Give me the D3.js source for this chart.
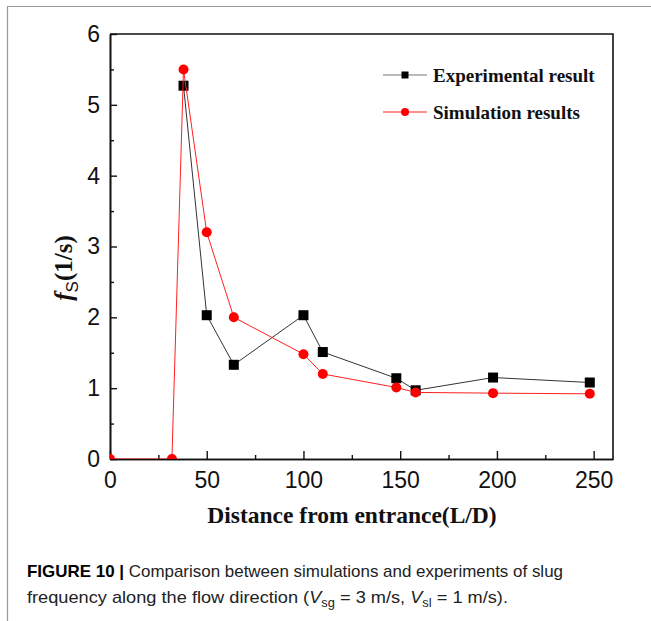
<!DOCTYPE html>
<html>
<head>
<meta charset="utf-8">
<script src="https://cdn.jsdelivr.net/npm/d3@7/dist/d3.min.js"></script>
<style>
	body { margin: 0; background: #fff; }
	svg { display: block; }
</style>
</head>
<body>
<svg></svg>
<script>
// distance from entrance (L/D)
const simDistance = [0, 32, 38, 50, 64, 100, 110, 148, 158, 198, 248]
const simValues = [0, 0, 5.5, 3.2, 2.0, 1.48, 1.2, 1.01, 0.94, 0.93, 0.92]
const expDistance = [38, 50, 64, 100, 110, 148, 158, 198, 248]
const expValues = [5.27, 2.03, 1.33, 2.03, 1.51, 1.14, 0.97, 1.15, 1.08]
const xTicks = [0, 50, 100, 150, 200, 250]
const xMinor = [25, 75, 125, 175, 225]
const yTicks = [0, 1, 2, 3, 4, 5, 6]
const yMinor = [0.5, 1.5, 2.5, 3.5, 4.5, 5.5]
const seriesNames = ['Experimental result', 'Simulation results']

const width = 651,
	height = 621,
	plotLeft = 110,
	plotRight = 613,
	plotTop = 34,
	plotBottom = 459

const svg = d3.select('svg')
	.attr('width', width)
	.attr('height', height)

// panel border (top and left only)
svg.append('path')
	.attr('d', `M7.5,${height} V6.5 H${width}`)
	.attr('fill', 'none')
	.attr('stroke', '#9a9a9a')
	.attr('stroke-width', 1.2)

const x = d3.scaleLinear().domain([0, 260]).range([plotLeft, plotRight])
const y = d3.scaleLinear().domain([0, 6]).range([plotBottom, plotTop])

const sim = simDistance.map((d, i) => ({ x: d, y: simValues[i] }))
const exp = expDistance.map((d, i) => ({ x: d, y: expValues[i] }))

svg.append('clipPath')
	.attr('id', 'plot-clip')
	.append('rect')
	.attr('x', plotLeft)
	.attr('y', plotTop)
	.attr('width', plotRight - plotLeft)
	.attr('height', plotBottom - plotTop)

// axes
const xAxis = svg.append('g')
	.attr('transform', `translate(0,${plotBottom})`)
	.call(d3.axisBottom(x).tickValues(xTicks).tickSizeInner(-8).tickSizeOuter(0).tickPadding(13))
xAxis.append('g')
	.call(d3.axisBottom(x).tickValues(xMinor).tickSizeInner(-4).tickSizeOuter(0).tickFormat(''))

const yAxis = svg.append('g')
	.attr('transform', `translate(${plotLeft},0)`)
	.call(d3.axisLeft(y).tickValues(yTicks).tickFormat(d3.format('d')).tickSizeInner(-7).tickSizeOuter(0).tickPadding(10))
yAxis.append('g')
	.call(d3.axisLeft(y).tickValues(yMinor).tickSizeInner(-4).tickSizeOuter(0).tickFormat(''))

svg.selectAll('.domain').attr('stroke', '#111').attr('stroke-width', 1.6)
svg.selectAll('.tick line').attr('stroke', '#111').attr('stroke-width', 1.4)
svg.selectAll('.tick text')
	.attr('fill', '#111')
	.style('font-family', 'Liberation Sans, Arial, sans-serif')
	.style('font-size', '23px')

// top and right frame
svg.append('path')
	.attr('d', `M${plotLeft},${plotTop} H${plotRight} V${plotBottom}`)
	.attr('fill', 'none')
	.attr('stroke', '#111')
	.attr('stroke-width', 1.6)

const line = d3.line()
	.x(d => x(d.x))
	.y(d => y(d.y))

const plot = svg.append('g').attr('clip-path', 'url(#plot-clip)')

plot.append('path')
	.datum(exp)
	.attr('d', line)
	.attr('fill', 'none')
	.attr('stroke', '#333')
	.attr('stroke-width', 1)

plot.selectAll('.sq')
	.data(exp)
	.enter()
	.append('rect')
	.attr('class', 'sq')
	.attr('x', d => x(d.x) - 5)
	.attr('y', d => y(d.y) - 5)
	.attr('width', 10)
	.attr('height', 10)
	.attr('fill', '#000')

plot.append('path')
	.datum(sim)
	.attr('d', line)
	.attr('fill', 'none')
	.attr('stroke', '#ff2020')
	.attr('stroke-width', 1)

plot.selectAll('.dot')
	.data(sim)
	.enter()
	.append('circle')
	.attr('class', 'dot')
	.attr('cx', d => x(d.x))
	.attr('cy', d => y(d.y))
	.attr('r', 5)
	.attr('fill', '#ff0000')

// legend
const legend = svg.append('g')
const rows = legend.selectAll('g')
	.data(seriesNames)
	.enter()
	.append('g')
	.attr('transform', (d, i) => 'translate(383,' + (75 + i * 37) + ')')

rows.append('line')
	.attr('x1', 0)
	.attr('x2', 44)
	.attr('stroke', (d, i) => i === 0 ? '#777' : '#ff2020')
	.attr('stroke-width', 1.2)

rows.filter((d, i) => i === 0)
	.append('rect')
	.attr('x', 18.5)
	.attr('y', -3.5)
	.attr('width', 7)
	.attr('height', 7)
	.attr('fill', '#000')

rows.filter((d, i) => i === 1)
	.append('circle')
	.attr('cx', 22)
	.attr('r', 4)
	.attr('fill', '#ff0000')

rows.append('text')
	.attr('x', 50)
	.attr('dy', '0.35em')
	.style('font-family', 'Liberation Serif, Times New Roman, serif')
	.style('font-weight', 'bold')
	.style('font-size', '19px')
	.attr('fill', '#111')
	.text(d => d)

// axis titles
svg.append('text')
	.attr('x', 352)
	.attr('y', 523)
	.attr('text-anchor', 'middle')
	.style('font-family', 'Liberation Serif, Times New Roman, serif')
	.style('font-weight', 'bold')
	.style('font-size', '23.5px')
	.attr('fill', '#111')
	.text('Distance from entrance(L/D)')

const yTitle = svg.append('text')
	.attr('transform', 'translate(72,268) rotate(-90)')
	.attr('text-anchor', 'middle')
	.style('font-family', 'Liberation Serif, Times New Roman, serif')
	.style('font-weight', 'bold')
	.style('font-size', '25px')
	.attr('fill', '#111')
yTitle.append('tspan').style('font-style', 'italic').text('f')
yTitle.append('tspan')
	.attr('dy', 6)
	.style('font-family', 'Liberation Sans, Arial, sans-serif')
	.style('font-size', '17px')
	.style('font-weight', 'normal')
	.text('S')
yTitle.append('tspan').attr('dy', -6).text('(1/s)')

// caption
const caption = svg.append('g')
	.style('font-family', 'Liberation Sans Narrow, Liberation Sans, Arial, sans-serif')
	.style('font-size', '17px')
	.attr('fill', '#222')

const cap1 = caption.append('text')
	.attr('x', 27)
	.attr('y', 577)
	.attr('textLength', 536)
	.attr('lengthAdjust', 'spacingAndGlyphs')
cap1.append('tspan').style('font-weight', 'bold').attr('fill', '#000').text('FIGURE 10 | ')
cap1.append('tspan').text('Comparison between simulations and experiments of slug')

const cap2 = caption.append('text')
	.attr('x', 27)
	.attr('y', 603)
	.attr('textLength', 481)
	.attr('lengthAdjust', 'spacingAndGlyphs')
cap2.append('tspan').text('frequency along the flow direction (')
cap2.append('tspan').style('font-style', 'italic').text('V')
cap2.append('tspan').attr('dy', 4).style('font-size', '12px').text('sg')
cap2.append('tspan').attr('dy', -4).text(' = 3 m/s, ')
cap2.append('tspan').style('font-style', 'italic').text('V')
cap2.append('tspan').attr('dy', 4).style('font-size', '12px').text('sl')
cap2.append('tspan').attr('dy', -4).text(' = 1 m/s).')
</script>
</body>
</html>
